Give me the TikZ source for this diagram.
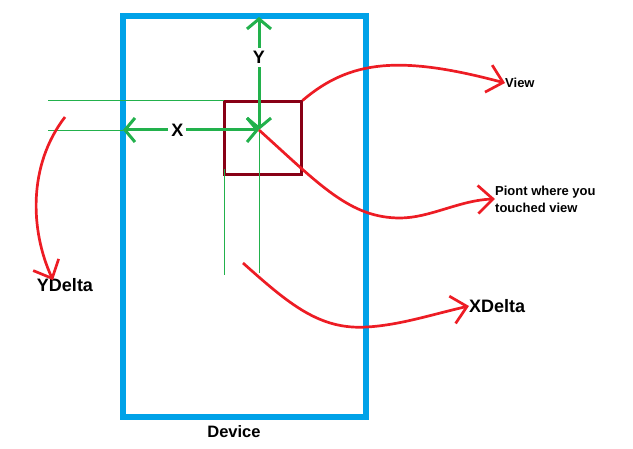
\documentclass[tikz,border=0pt]{standalone}
\usepackage{fontspec}
\setmainfont{Liberation Sans}
\usetikzlibrary{arrows.meta}
\definecolor{paintblue}{HTML}{00A2E8}
\definecolor{paintred}{HTML}{ED1C24}
\definecolor{paintgreen}{HTML}{22B14C}
\definecolor{darkred}{HTML}{880015}

\begin{document}
\begin{tikzpicture}[x=1pt, y=-1pt, font=\bfseries,
  device/.style={draw=paintblue, line width=5.5pt, minimum width=243pt, minimum height=401pt, inner sep=0pt},
  viewbox/.style={draw=darkred, line width=3pt, minimum width=77pt, minimum height=73pt, inner sep=0pt},
  measure/.style={draw=paintgreen, line width=3pt, {Straight Barb[length=10pt,width=24pt]}-{Straight Barb[length=10pt,width=24pt]}},
  guide/.style={draw=paintgreen, line width=0.8pt},
  pointer/.style={draw=paintred, line width=2.7pt, -{Straight Barb[length=15pt,width=28pt]}},
  big/.style={font=\bfseries\fontsize{18}{20}\selectfont, inner sep=0pt},
  small/.style={font=\bfseries\fontsize{13}{17}\selectfont, inner sep=0pt, align=left}]
  \useasboundingbox (0,0) rectangle (633,449);

  \node[device] (DEVICE) at (244.5,216.5) {};
  \node[viewbox] (VIEW) at (262.5,138.5) {};
  \node[font=\bfseries\fontsize{16.5}{18}\selectfont, inner sep=0pt] (DEVICE_LBL) at (234,432) {Device};

  \coordinate (TOUCH) at (259,130);
  \coordinate (YTOP) at (259,17);
  \coordinate (XLEFT) at (123,130);

  % guide lines
  \draw[guide] (48,100) -- (224,100);
  \draw[guide] (48,130) -- (XLEFT);
  \draw[guide] (224,169) -- (224,275);
  \draw[guide] (TOUCH) -- (259,273);

  \draw[measure] (TOUCH) -- node[pos=0.64, fill=white, inner sep=3pt, font=\bfseries\fontsize{18}{20}\selectfont] {Y} (YTOP);
  \draw[measure] (TOUCH) -- node[pos=0.6, fill=white, inner sep=3pt, font=\bfseries\fontsize{18}{20}\selectfont] {X} (XLEFT);

  \node[small, anchor=west] (VIEW_LBL) at (505,83) {View};
  \node[small, anchor=west] (TOUCH_LBL) at (495,199) {Piont where you\\touched view};
  \node[big, anchor=west] (XDELTA) at (469,306) {XDelta};
  \node[big] (YDELTA) at (65,285) {YDelta};

  \draw[pointer] (VIEW.north east) .. controls (350,60) and (400,55) .. (VIEW_LBL.west);
  \draw[pointer] (TOUCH) .. controls (320,185) and (350,218) .. (400,218)
    .. controls (430,218) and (460,200) .. (TOUCH_LBL.west);
  \draw[pointer] (243,263) .. controls (290,305) and (320,330) .. (367,327)
    .. controls (400,325) and (430,315) .. (XDELTA.west);
  \draw[pointer] (65,117) .. controls (28,165) and (30,230) .. ([xshift=-12pt,yshift=-2pt]YDELTA.north);
\end{tikzpicture}
\end{document}
